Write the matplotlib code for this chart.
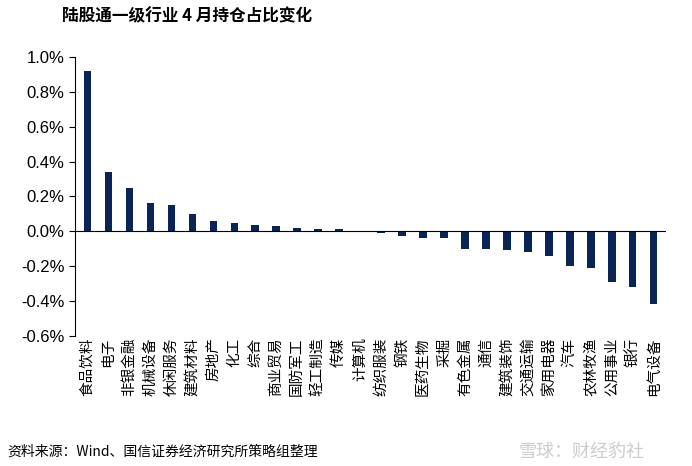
import matplotlib
matplotlib.use("Agg")
import matplotlib.pyplot as plt
from matplotlib.ticker import FuncFormatter

plt.rcParams['font.family'] = ['Noto Sans CJK SC', 'DejaVu Sans']

categories = ["食品饮料","电子","非银金融","机械设备","休闲服务","建筑材料","房地产","化工","综合","商业贸易",
              "国防军工","轻工制造","传媒","计算机","纺织服装","钢铁","医药生物","采掘","有色金属","通信",
              "建筑装饰","交通运输","家用电器","汽车","农林牧渔","公用事业","银行","电气设备"]
values = [0.92,0.34,0.25,0.16,0.15,0.10,0.06,0.05,0.035,0.03,
          0.02,0.015,0.01,0.0,-0.01,-0.03,-0.04,-0.04,-0.10,-0.10,
          -0.11,-0.12,-0.14,-0.20,-0.21,-0.29,-0.32,-0.42]
yticks = [1.0,0.8,0.6,0.4,0.2,0.0,-0.2,-0.4,-0.6]

fig = plt.figure(figsize=(6.92,4.66), dpi=100)
ax = fig.add_axes([0.108, 0.28, 0.855, 0.597])
x = range(len(categories))
ax.bar(x, values, width=0.35, color='#0a2455')
ax.set_ylim(-0.6, 1.0)
ax.set_xlim(-0.6, len(categories)-0.4)
ax.set_yticks(yticks)
ax.yaxis.set_major_formatter(FuncFormatter(lambda v, p: f"{v:.1f}%"))
ax.tick_params(axis='y', labelsize=12, direction='out', length=4)
for t in ax.get_yticklabels():
    t.set_fontfamily('Liberation Sans')
ax.spines['top'].set_visible(False)
ax.spines['right'].set_visible(False)
ax.spines['bottom'].set_visible(False)
ax.axhline(0, color='black', lw=0.8)
ax.set_xticks([])
for i, c in enumerate(categories):
    ax.text(i, -0.61, c, rotation=90, ha='center', va='top', fontsize=10.5)

fig.text(0.09, 0.965, "陆股通一级行业 4 月持仓占比变化", fontsize=12, fontweight='bold', va='center')
fig.text(0.01, 0.03, "资料来源：Wind、国信证券经济研究所策略组整理", fontsize=10, va='center')
fig.text(0.75, 0.03, "雪球：财经豹社", fontsize=13, color='#cccccc', va='center')
fig.savefig("out.png")
